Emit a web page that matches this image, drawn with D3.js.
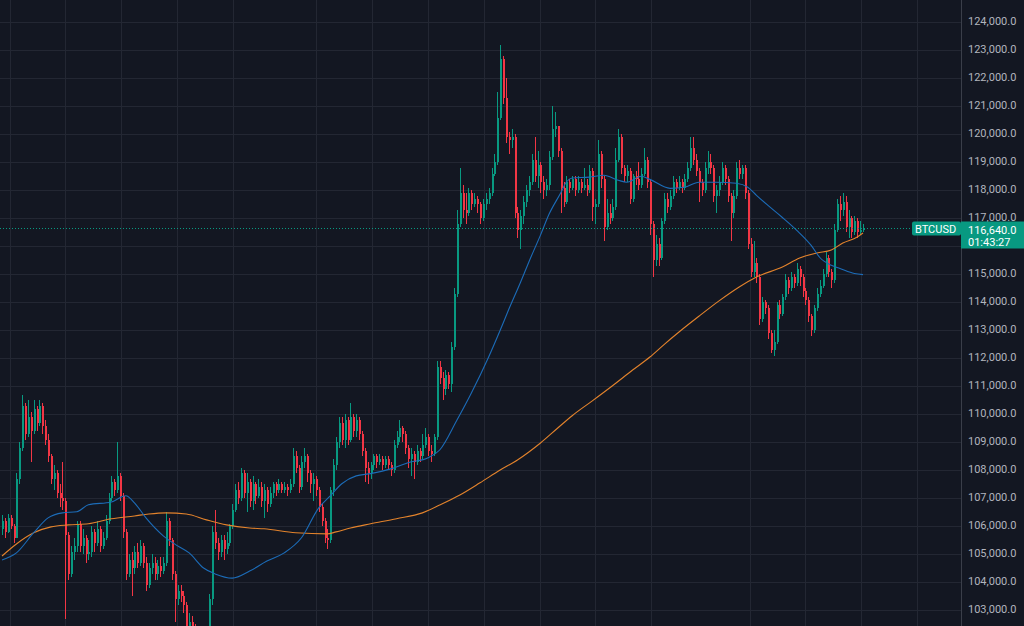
<!DOCTYPE html>
<html>
<head>
<meta charset="utf-8">
<script src="https://cdn.jsdelivr.net/npm/d3@7"></script>
<style>
  html, body { margin: 0; padding: 0; background: #131722; overflow: hidden; }
  svg { display: block; }
</style>
</head>
<body>
<div id="chart"></div>
<script>
// ---- data (4h BTCUSD candles) ----
const symbol = "BTCUSD";
const lastPrice = 116640;
const countdown = "01:43:27";
const firstOpen = 105900;

const closes = [
  106200,105800,106300,106000,105600,107700,108800,110300,109300,109900,
  109400,110200,109700,110300,109600,109100,108500,107700,107900,107200,
  107000,106900,105700,104300,105100,105300,106100,105300,105600,105000,
  105100,105800,105400,105900,105300,105600,106200,107000,107600,107300,
  107800,107100,105800,104300,104800,104500,105100,104700,105300,104700,
  103900,104500,104700,104300,104600,104400,104700,106200,105500,104300,
  103400,103700,103500,103200,102200,102600,102200,101400,100800,101500,
  101000,101900,103400,105800,105400,105100,105500,105200,105400,106000,
  106600,107300,107000,107900,107200,107600,106900,107500,107100,107400,
  106900,107300,106800,107200,107500,107300,107500,107300,107400,107300,
  107500,108500,108100,107400,108300,108500,107900,107500,107700,107300,
  106700,106200,105600,105500,107300,108200,109000,109700,109100,109800,
  109100,109900,109400,109800,109300,108700,108100,107900,108200,108500,
  108300,108400,108200,108400,108200,108000,108900,109200,109500,109300,
  108800,108400,108600,108300,108700,108500,108900,109200,108700,108600,
  109200,111700,111300,110900,111400,111100,112400,114300,116800,117900,
  117300,117200,117900,117500,117700,117500,117000,117500,117700,117900,
  118600,119000,120600,122700,121300,119900,119800,119900,117200,116600,
  117100,117600,118000,118300,119100,118500,118900,118300,118000,118200,
  119200,120200,120300,119400,118100,117600,118300,118100,118400,118000,
  118300,118100,118200,118000,118700,117400,117500,119300,118400,116700,
  117200,117000,117400,119100,119900,118800,118500,118700,117700,118500,
  118400,118200,118600,119100,118300,116800,115500,116100,115600,116900,
  117700,117400,117800,118300,118100,118300,118100,118400,118800,119500,
  119100,118700,118300,118000,118800,119000,118800,117800,118000,118300,
  118800,118400,117800,117200,117800,118800,118600,118800,117900,116100,
  115100,115400,114900,113400,114000,113800,112900,112300,112600,113900,
  113600,114200,114800,114500,114900,114700,115200,114900,114400,114100,
  113500,113000,113800,114300,114600,115000,115600,115100,114800,116600,
  117500,117300,117600,116700,117000,116500,116900,116500,116600,116640
];

const highs = [
  106400,106300,106450,106400,106100,107900,109000,110700,110400,110500,
  110100,110500,110300,110500,110400,109800,109300,108600,108200,108000,
  107500,108300,107000,105800,105300,105600,106200,106200,105900,105700,
  105500,106000,105900,106200,106000,105800,106400,107200,107800,107700,
  109000,107900,107200,105900,105000,105100,105300,105400,105500,105400,
  104900,104700,105000,104900,104800,104900,104900,106500,106300,105600,
  104400,103900,103900,103700,103300,102900,102800,102500,101700,101800,
  101800,102200,103600,106000,106600,105600,105700,105700,105800,106100,
  106800,107500,107600,108100,108000,107900,107700,107800,107600,107700,
  107600,107500,107400,107400,107600,107600,107700,107600,107600,107500,
  107700,108800,108700,108200,108500,108800,108600,108000,107900,107800,
  107400,106800,106300,105900,107400,108400,109200,109900,109900,110000,
  109900,110400,110000,110000,109900,109400,108800,108300,108300,108600,
  108600,108600,108500,108500,108500,108300,109100,109400,109800,109600,
  109400,108900,108800,108700,108900,108800,109300,109500,109300,108900,
  109300,111900,111900,111500,111600,111500,112600,114500,117300,118800,
  118200,117900,118100,118000,117900,117800,117600,117700,117900,118100,
  118800,119300,121500,123200,122800,122000,120100,120200,120000,117400,
  117300,117800,118200,118500,119300,119900,119400,119000,118500,118400,
  119400,121000,120800,120300,119500,118300,118500,118400,118500,118500,
  118500,118400,118800,118400,118900,118800,117700,119800,119400,118500,
  117700,117500,117700,119500,120200,120000,118900,118900,118800,118600,
  118700,119000,118800,119500,119200,118400,116900,116400,116300,117000,
  117900,117900,118000,118500,118400,118500,118400,118600,119000,119900,
  119900,119300,118800,118400,119000,119400,119300,118900,118200,118500,
  119000,118900,118500,117900,118000,119000,119100,118900,118900,118000,
  116300,116200,115600,115000,114200,114100,113900,113000,113000,114000,
  114100,114300,115000,114900,115100,115000,115400,115300,115000,114500,
  114200,113600,113900,114500,114800,115200,115800,115700,115200,116800,
  117700,117800,117900,117800,117300,117100,117100,117000,116900,116800
];

const lows = [
  105700,105600,105750,105900,105400,105600,107500,108700,109100,109200,
  108300,109300,109400,109600,109300,108900,108300,107500,107300,107000,
  106700,106600,102700,104100,104200,104800,105100,105100,105000,104700,
  104800,104900,105100,105300,105100,105200,105500,106100,106900,107100,
  107200,106900,105600,104100,104200,103500,104300,104500,104600,104500,
  103700,103800,104300,104100,104100,104200,104300,104600,105300,104100,
  102600,103200,103300,102900,101900,101800,101500,101000,100200,100500,
  100000,100800,101800,103200,105200,104800,104900,104800,105000,105300,
  105900,106500,106800,106900,107000,106500,106700,106600,106800,107000,
  106700,106300,106500,106700,107000,107100,107200,107200,107200,107100,
  107200,107400,107900,107200,107300,108100,107600,107200,106900,107100,
  106500,106000,105400,105200,105400,107100,108000,108800,108900,108800,
  108900,109000,109200,109200,109100,108500,107600,107500,107700,108000,
  108100,108200,108000,108100,108000,107800,107900,108800,109000,109000,
  108600,108100,107800,107700,108200,108300,108400,108800,108500,108300,
  108500,109100,111100,110500,110700,110900,110800,112300,114200,116700,
  117000,116800,117100,117300,117400,117200,116800,116900,117300,117500,
  117800,118500,118900,120500,121100,119700,119300,119500,117000,116300,
  115900,116800,117400,117800,118200,118300,118100,117900,117700,117800,
  118000,119100,119900,119200,117200,117400,117500,117900,118000,117800,
  117900,117900,118000,117800,117900,116900,116800,117400,118100,116200,
  116600,116800,116900,117300,119000,118600,118300,118300,117500,117600,
  118200,118000,118100,118500,118100,116400,114900,115300,115300,115500,
  116800,117200,117300,117700,117900,118000,117900,118000,118300,118700,
  118900,118500,117600,117800,117900,118600,118600,117600,117200,117800,
  118200,118200,117600,116200,117000,117700,118400,118400,117700,115900,
  114900,114900,114700,113200,113300,113600,112700,112200,112100,112500,
  113400,113500,114100,114300,114400,114500,114600,114600,114200,113900,
  113300,112800,112900,113700,114200,114500,114900,114900,114500,114700,
  116500,116900,117100,116500,116300,116300,116400,116300,116400,116500
];

// moving averages (candle index -> price)
const fastAt = [0,5,11,16,21,26,30,38,43,46,50,56,61,65,70,74,80,86,92,98,
  104,110,114,118,123,128,135,141,148,152,158,163,169,173,176,180,183,187,190,194,
  196,198,204,209,214,217,222,225,232,237,242,248,255,259,262,266,271,276,281,284,
  288,291,296,299];
const fastVal = [104800,105050,105770,106300,106480,106520,106770,106870,107090,106840,
  106300,105660,105300,105050,104510,104300,104150,104400,104760,105050,
  105590,106660,107090,107520,107800,107880,108050,108270,108450,108725,
  109796,110761,112046,113000,113750,114700,115450,116400,117150,117904,
  118296,118439,118470,118540,118360,118290,118500,118390,118070,118110,
  118290,118290,118250,118110,117820,117460,117030,116570,116030,115600,
  115320,115210,115030,114990];
const slowAt = [0,5,11,17,23,30,38,46,51,57,64,71,78,86,91,102,113,116,121,128,
  137,146,152,159,166,173,179,187,193,198,205,212,219,225,230,235,242,249,256,262,
  271,277,283,288,292,297,299];
const slowVal = [104940,105370,105770,105980,106050,106090,106270,106370,106440,106480,
  106440,106230,106050,105940,105910,105770,105730,105800,105940,106090,
  106270,106480,106760,107118,107554,108011,108368,108975,109511,109950,
  110480,111020,111580,112046,112500,112930,113500,114050,114546,114904,
  115261,115582,115761,115868,116118,116332,116475];

// time grid, in candle units (day boundaries)
const timeGrid = [2.7,21.9,41.3,60.8,80.2,109.0,128.5,147.9,167.4,186.8,205.9,225.3,259.7,278.8,298.3,317.7];
const priceTicks = [103000,104000,105000,106000,107000,108000,109000,110000,111000,
  112000,113000,114000,115000,116000,117000,118000,119000,120000,121000,122000,123000,124000];

// ---- layout ----
const width = 1024, height = 626, paneW = 961;
const upColor = "#089981", downColor = "#f23645";
const fmt = d3.format(",.1f");

const candles = closes.map((c, i) => {
  const o = i === 0 ? firstOpen : closes[i - 1];
  return { i, o, c, h: Math.max(highs[i], o, c), l: Math.min(lows[i], o, c) };
});

const x = d3.scaleLinear().domain([0, closes.length - 1]).range([2, 863]);
const y = d3.scaleLinear().domain([103000, 124000]).range([610.3, 22.3]);

const svg = d3.select("#chart").append("svg")
  .attr("width", width).attr("height", height)
  .style("font-family", "Roboto, 'Noto Sans', sans-serif");

svg.append("rect").attr("width", width).attr("height", height).attr("fill", "#131722");

svg.append("clipPath").attr("id", "pane")
  .append("rect").attr("width", paneW).attr("height", height);

const pane = svg.append("g").attr("clip-path", "url(#pane)");

// grid
pane.append("g").selectAll("line").data(priceTicks).join("line")
  .attr("x1", 0).attr("x2", paneW)
  .attr("y1", d => Math.round(y(d)) + 0.5).attr("y2", d => Math.round(y(d)) + 0.5)
  .attr("stroke", "#232733");
pane.append("g").selectAll("line").data(timeGrid).join("line")
  .attr("x1", d => Math.round(x(d)) + 0.5).attr("x2", d => Math.round(x(d)) + 0.5)
  .attr("y1", 0).attr("y2", height)
  .attr("stroke", "#232733");

// candles
const cg = pane.append("g").attr("shape-rendering", "crispEdges");
cg.selectAll("line").data(candles).join("line")
  .attr("x1", d => Math.round(x(d.i)) + 0.5).attr("x2", d => Math.round(x(d.i)) + 0.5)
  .attr("y1", d => y(d.h)).attr("y2", d => y(d.l))
  .attr("stroke", d => d.c >= d.o ? upColor : downColor);
cg.selectAll("rect").data(candles).join("rect")
  .attr("x", d => Math.round(x(d.i)) - 0.5)
  .attr("width", 2)
  .attr("y", d => y(Math.max(d.o, d.c)))
  .attr("height", d => Math.max(1, Math.abs(y(d.o) - y(d.c))))
  .attr("fill", d => d.c >= d.o ? upColor : downColor);

// moving averages
const maLine = d3.line().x(d => x(d[0])).y(d => y(d[1])).curve(d3.curveMonotoneX);
pane.append("path").datum(d3.zip(slowAt, slowVal))
  .attr("d", maLine).attr("fill", "none").attr("stroke", "#e3832c").attr("stroke-width", 1.1);
pane.append("path").datum(d3.zip(fastAt, fastVal))
  .attr("d", maLine).attr("fill", "none").attr("stroke", "#1c6cb8").attr("stroke-width", 1.1);

// last price line
const py = Math.round(y(lastPrice)) + 0.5;
pane.append("line").attr("x1", 0).attr("x2", 912).attr("y1", py).attr("y2", py)
  .attr("stroke", upColor).attr("stroke-dasharray", "1,2");

// price scale (labels under the last-price badge are hidden, as on the chart)
const badgeTop = py - 7, badgeBottom = py + 20;
svg.append("line").attr("x1", paneW + 0.5).attr("x2", paneW + 0.5).attr("y1", 0).attr("y2", height)
  .attr("stroke", "#3a3e49");
svg.append("g").selectAll("text")
  .data(priceTicks.filter(d => y(d) < badgeTop || y(d) > badgeBottom))
  .join("text")
  .attr("x", 968).attr("y", d => y(d) + 3)
  .attr("font-size", 11).attr("fill", "#b2b5be")
  .text(d => fmt(d));

// symbol + last price badges
svg.append("rect").attr("x", 912).attr("y", badgeTop).attr("width", paneW - 912).attr("height", 14)
  .attr("rx", 2).attr("fill", upColor);
svg.append("text").attr("x", 915).attr("y", py + 4).attr("font-size", 11).attr("fill", "#ffffff")
  .text(symbol);
svg.append("rect").attr("x", paneW).attr("y", badgeTop).attr("width", width - paneW)
  .attr("height", badgeBottom - badgeTop).attr("fill", upColor);
svg.append("text").attr("x", 968).attr("y", py + 5).attr("font-size", 11).attr("fill", "#ffffff")
  .text(fmt(lastPrice));
svg.append("text").attr("x", 968).attr("y", py + 17).attr("font-size", 11).attr("fill", "#ffffff")
  .text(countdown);
</script>
</body>
</html>
